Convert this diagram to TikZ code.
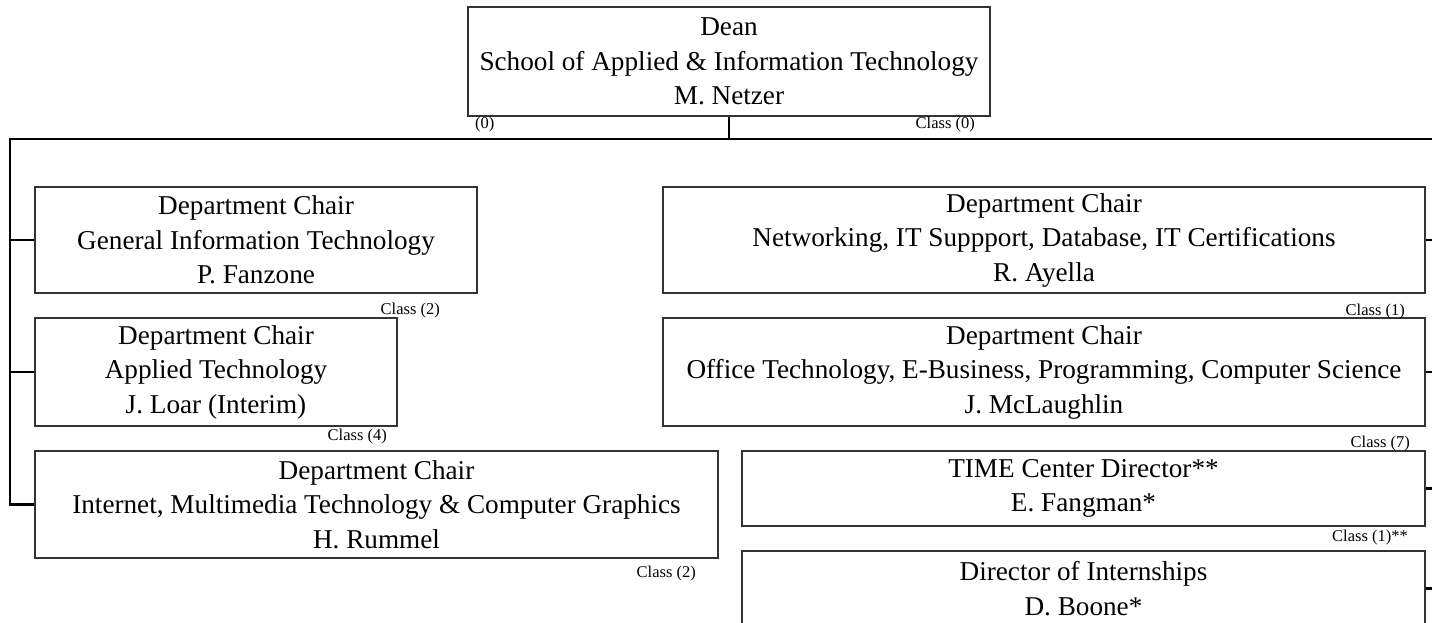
\documentclass[tikz,border=0pt]{standalone}
\usepackage{fontspec}
\setmainfont{Liberation Serif}
\begin{document}
\begin{tikzpicture}[x=1pt,y=-1pt,
  box/.style={draw=black!80,line width=1.1pt,rectangle,inner sep=0pt,align=center,
    font=\fontsize{27.2}{34.5}\selectfont},
  bus/.style={draw=black,line width=2.4pt},
  cls/.style={inner sep=0pt,font=\fontsize{16.5}{17}\selectfont}]
\useasboundingbox (0,0) rectangle (1432,623);
\clip (0,0) rectangle (1432,623);
% boxes
\node[box,minimum width=522pt,minimum height=109pt] (dean) at (729,61.5)
  {Dean\\School of Applied \& Information Technology\\M. Netzer};
\node[box,minimum width=442pt,minimum height=106pt] (git) at (256,240)
  {Department Chair\\General Information Technology\\P. Fanzone};
\node[box,minimum width=362pt,minimum height=108pt] (at) at (216,372)
  {Department Chair\\Applied Technology\\J. Loar (Interim)};
\node[box,minimum width=683pt,minimum height=107pt] (imt) at (376.5,504.5)
  {Department Chair\\Internet, Multimedia Technology \& Computer Graphics\\H. Rummel};
\node[box,minimum width=762pt,minimum height=106pt] (net) at (1044,240)
  {Department Chair\\Networking, IT Suppport, Database, IT Certifications\\R. Ayella};
\node[box,minimum width=762pt,minimum height=108pt] (off) at (1044,372)
  {Department Chair\\Office Technology, E-Business, Programming, Computer Science\\J. McLaughlin};
\node[box,minimum width=683pt,minimum height=75pt] (time) at (1083.5,488.5)
  {TIME Center Director**\\E. Fangman*};
\node[box,minimum width=683pt,minimum height=75pt] (int) at (1083.5,588.5)
  {Director of Internships\\D. Boone*};
% small labels
\node[cls,anchor=west] (l0) at (475,125) {(0)};
\node[cls,anchor=east] (c0) at (975,125) {Class (0)};
\node[cls,anchor=east] (c1) at (440,311) {Class (2)};
\node[cls,anchor=east] (c2) at (387,437) {Class (4)};
\node[cls,anchor=east] (c3) at (696,574) {Class (2)};
\node[cls,anchor=east] (c4) at (1405,312) {Class (1)};
\node[cls,anchor=east] (c5) at (1410,444) {Class (7)};
\node[cls,anchor=east] (c6) at (1408,538) {Class (1)**};
% bus
\coordinate (tl) at (10,139);
\coordinate (tm) at (dean.south |- tl);
\coordinate (tr) at (1445,139);
\draw[bus] (dean.south) -- (tm);
\draw[bus] (tr) -- (tl) |- (imt.west);
\draw[bus] (tl |- git.west) -- (git.west);
\draw[bus] (tl |- at.west) -- (at.west);
\draw[bus] (tr |- net.east) -- (net.east);
\draw[bus] (tr |- off.east) -- (off.east);
\draw[bus] (tr |- time.east) -- (time.east);
\draw[bus] (tr |- int.east) -- (int.east);
\end{tikzpicture}
\end{document}
